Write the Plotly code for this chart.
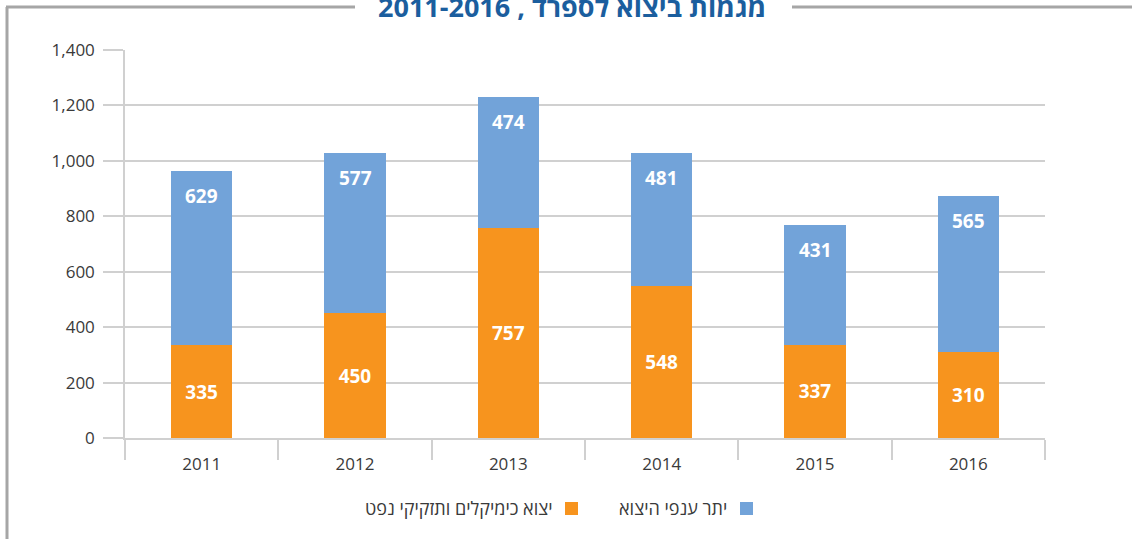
import plotly.graph_objects as go

years = ["2011", "2012", "2013", "2014", "2015", "2016"]
chem_oil = [335, 450, 757, 548, 337, 310]
other = [629, 577, 474, 481, 431, 565]
name_chem = "יצוא כימיקלים ותזקיקי נפט"
name_other = "יתר ענפי היצוא"
title_text = "מגמות ביצוא לספרד , 2011-2016"

ORANGE = "#f7941e"
BLUE = "#72a3d9"
GRID = "#d0d0d0"
FONT = "Open Sans, Liberation Sans, DejaVu Sans, sans-serif"
TXT = "#3a3a3a"

W, H = 1132, 539
L, R, T, B = 125, 87, 50, 101
pw, ph = W - L - R, H - T - B

def px(x):
    return (x - L) / pw

def py(y):
    return (H - B - y) / ph

lab_font = dict(color="white", size=19, family=FONT, weight="bold")

fig = go.Figure()
fig.add_bar(x=years, y=chem_oil, name=name_chem, marker_color=ORANGE,
            marker_line_width=0, text=[str(v) for v in chem_oil],
            textposition="inside", insidetextanchor="middle",
            textfont=lab_font)
fig.add_bar(x=years, y=other, name=name_other, marker_color=BLUE,
            marker_line_width=0)

annotations = []
for i, (a, b) in enumerate(zip(chem_oil, other)):
    annotations.append(dict(x=i, y=a + b, xref="x", yref="y", text=str(b),
                            showarrow=False, yanchor="middle", yshift=-25,
                            font=lab_font))

annotations.append(dict(x=px(572), y=py(7), xref="paper", yref="paper", text=title_text,
                        showarrow=False, xanchor="center", yanchor="middle",
                        font=dict(color="#1b5e9e", size=27, family=FONT, weight="bold")))
# manual RTL legend
annotations.append(dict(x=px(729), y=py(508), xref="paper", yref="paper", text=name_other,
                        showarrow=False, xanchor="right", yanchor="middle",
                        font=dict(color=TXT, size=18, family=FONT)))
annotations.append(dict(x=px(555), y=py(508), xref="paper", yref="paper", text=name_chem,
                        showarrow=False, xanchor="right", yanchor="middle",
                        font=dict(color=TXT, size=18, family=FONT)))

shapes = [
    dict(type="rect", xref="paper", yref="paper", x0=px(740), x1=px(753), y0=py(515), y1=py(502),
         fillcolor=BLUE, line_width=0),
    dict(type="rect", xref="paper", yref="paper", x0=px(565), x1=px(578), y0=py(515), y1=py(502),
         fillcolor=ORANGE, line_width=0),
    # frame
    dict(type="line", xref="paper", yref="paper", x0=px(7), x1=px(7), y0=py(7), y1=py(545),
         line=dict(color="#a6a6a6", width=3)),
    dict(type="line", xref="paper", yref="paper", x0=px(6), x1=px(355), y0=py(7), y1=py(7),
         line=dict(color="#a6a6a6", width=3)),
    dict(type="line", xref="paper", yref="paper", x0=px(792), x1=px(1140), y0=py(7), y1=py(7),
         line=dict(color="#a6a6a6", width=3)),
]

fig.update_layout(
    width=W, height=H,
    margin=dict(l=L, r=R, t=T, b=B),
    barmode="stack", bargap=0.6,
    plot_bgcolor="white", paper_bgcolor="white",
    showlegend=False,
    annotations=annotations, shapes=shapes,
    font=dict(family=FONT, color=TXT),
)
fig.update_xaxes(type="category", showgrid=False, ticks="outside", tickson="boundaries",
                 ticklen=20, tickcolor=GRID, tickwidth=1.5, showline=True, linecolor=GRID,
                 linewidth=1.5, tickfont=dict(size=17, color=TXT), ticklabelstandoff=10)
fig.update_yaxes(range=[0, 1400], dtick=200, tickformat=",", showgrid=True, gridcolor=GRID,
                 gridwidth=1.5, ticks="outside", ticklen=20, tickcolor=GRID, tickwidth=1.5,
                 showline=True, linecolor=GRID, linewidth=1.5, zeroline=False,
                 tickfont=dict(size=17, color=TXT), ticklabelstandoff=5)

fig.write_html("out.html", config={"displayModeBar": False},
               post_script="document.body.style.margin='0';")
